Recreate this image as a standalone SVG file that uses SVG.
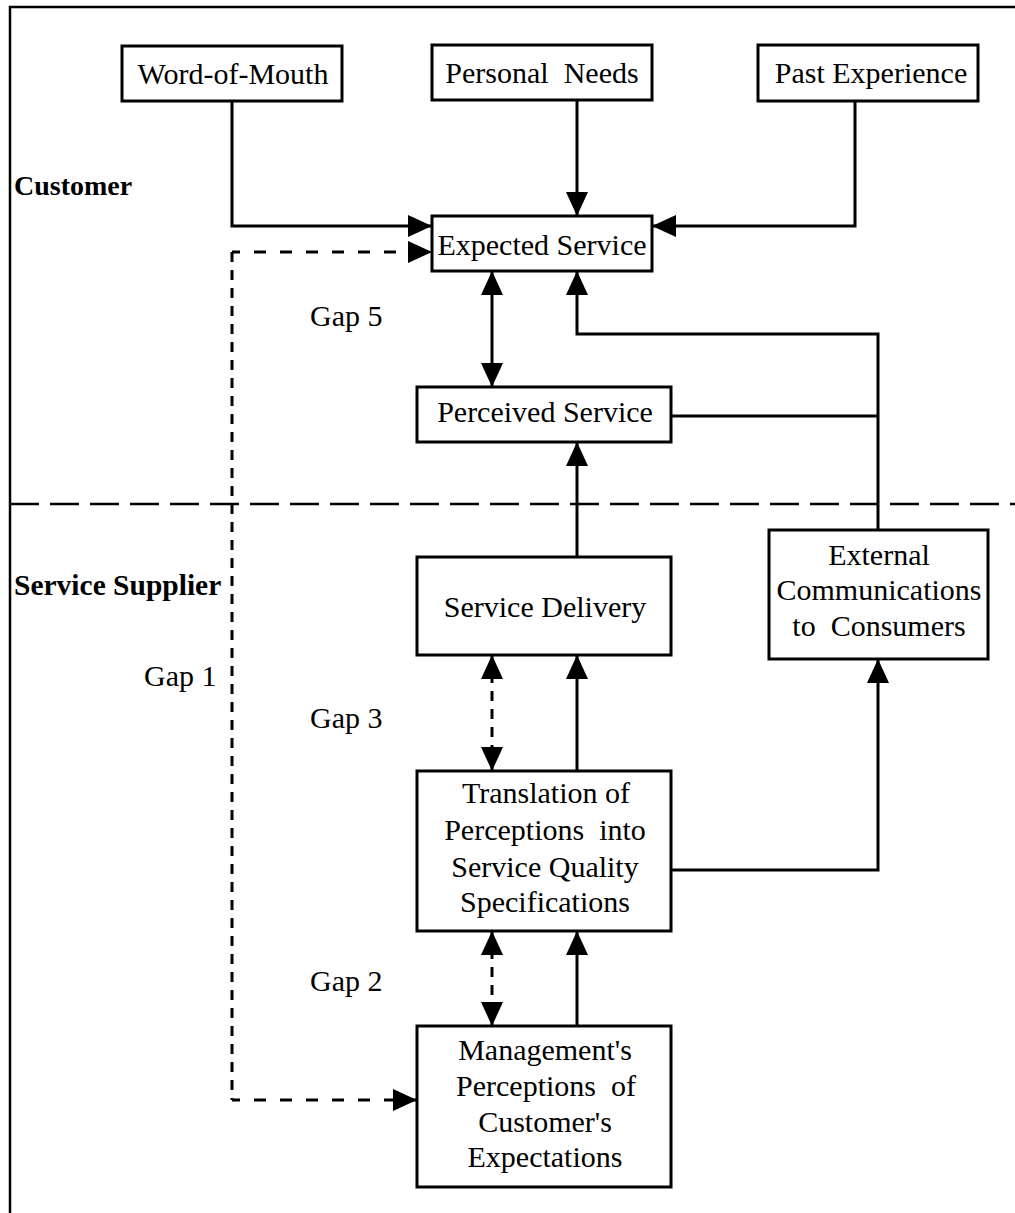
<svg xmlns="http://www.w3.org/2000/svg" width="1015" height="1213" viewBox="0 0 1015 1213">
<style>
  .box { fill: #ffffff; stroke: #000000; stroke-width: 3; }
  .t { font-family: "Liberation Serif", "Times New Roman", serif; font-size: 30px; fill: #000000; text-anchor: middle; }
  .lbl { font-family: "Liberation Serif", "Times New Roman", serif; font-size: 30px; fill: #000000; }
  .side { font-family: "Liberation Serif", "Times New Roman", serif; font-weight: bold; fill: #000000; }
  .ln { fill: none; stroke: #000000; stroke-width: 3; }
  .dh { stroke-dasharray: 12 14; }
  .dv { stroke-dasharray: 10 8; }
  .arr { marker-end: url(#ah); }
  .both { marker-start: url(#ah); marker-end: url(#ah); }
</style>
<defs>
  <marker id="ah" viewBox="0 0 24 22" refX="24" refY="11" markerWidth="24" markerHeight="22" markerUnits="userSpaceOnUse" orient="auto-start-reverse">
    <path d="M0,0 L24,11 L0,22 Z" fill="#000000"/>
  </marker>
</defs>
<rect x="0" y="0" width="1015" height="1213" fill="#ffffff"/>
<g id="frame">
  <path d="M10,1213 V7 H1015" fill="none" stroke="#000000" stroke-width="2.5"/>
  <path d="M10,504 H1015" fill="none" stroke="#000000" stroke-width="2.5" stroke-dasharray="29 11"/>
</g>
<g id="side-labels">
  <text class="side" x="14" y="195" font-size="28">Customer</text>
  <text class="side" x="14" y="595" font-size="29.5">Service Supplier</text>
</g>
<g id="connectors">
  <path class="ln arr" d="M232,101 V226 H432"/>
  <path class="ln arr" d="M577,100 V216"/>
  <path class="ln arr" d="M855,101 V226 H652"/>
  <path class="ln dh arr" d="M232,252 H432" stroke-dashoffset="4"/>
  <path class="ln dv" d="M232,252 V1100"/>
  <path class="ln dh arr" d="M232,1100 H417" stroke-dashoffset="4"/>
  <path class="ln both" d="M492,271 V387"/>
  <path class="ln arr" d="M878,530 V334 H577 V271"/>
  <path class="ln" d="M671,416 H878"/>
  <path class="ln arr" d="M577,557 V442"/>
  <path class="ln dv both" d="M492,655 V771"/>
  <path class="ln arr" d="M577,771 V655"/>
  <path class="ln arr" d="M671,870 H878 V659"/>
  <path class="ln dv both" d="M492,931 V1026"/>
  <path class="ln arr" d="M577,1026 V931"/>
</g>
<g id="gap-labels">
  <text class="lbl" x="310" y="326">Gap 5</text>
  <text class="lbl" x="144" y="686">Gap 1</text>
  <text class="lbl" x="310" y="728">Gap 3</text>
  <text class="lbl" x="310" y="991">Gap 2</text>
</g>
<g id="word-of-mouth">
  <rect class="box" x="122" y="46" width="220" height="55"/>
  <text class="t" x="233" y="84">Word-of-Mouth</text>
</g>
<g id="personal-needs">
  <rect class="box" x="432" y="45" width="220" height="55"/>
  <text class="t" x="542" y="83" xml:space="preserve">Personal  Needs</text>
</g>
<g id="past-experience">
  <rect class="box" x="758" y="45" width="220" height="56"/>
  <text class="t" x="871" y="83">Past Experience</text>
</g>
<g id="expected-service">
  <rect class="box" x="432" y="216" width="220" height="55"/>
  <text class="t" x="542" y="255">Expected Service</text>
</g>
<g id="perceived-service">
  <rect class="box" x="417" y="387" width="254" height="55"/>
  <text class="t" x="545" y="422">Perceived Service</text>
</g>
<g id="service-delivery">
  <rect class="box" x="417" y="557" width="254" height="98"/>
  <text class="t" x="545" y="617">Service Delivery</text>
</g>
<g id="external-communications">
  <rect class="box" x="769" y="530" width="219" height="129"/>
  <text class="t" x="879" y="565">External</text>
  <text class="t" x="879" y="600">Communications</text>
  <text class="t" x="879" y="636" xml:space="preserve">to  Consumers</text>
</g>
<g id="translation">
  <rect class="box" x="417" y="771" width="254" height="160"/>
  <text class="t" x="546" y="803">Translation of</text>
  <text class="t" x="545" y="840" xml:space="preserve">Perceptions  into</text>
  <text class="t" x="545" y="877">Service Quality</text>
  <text class="t" x="545" y="912">Specifications</text>
</g>
<g id="management-perceptions">
  <rect class="box" x="417" y="1026" width="254" height="161"/>
  <text class="t" x="545" y="1060">Management's</text>
  <text class="t" x="546" y="1096" xml:space="preserve">Perceptions  of</text>
  <text class="t" x="545" y="1132">Customer's</text>
  <text class="t" x="545" y="1167">Expectations</text>
</g>
</svg>
